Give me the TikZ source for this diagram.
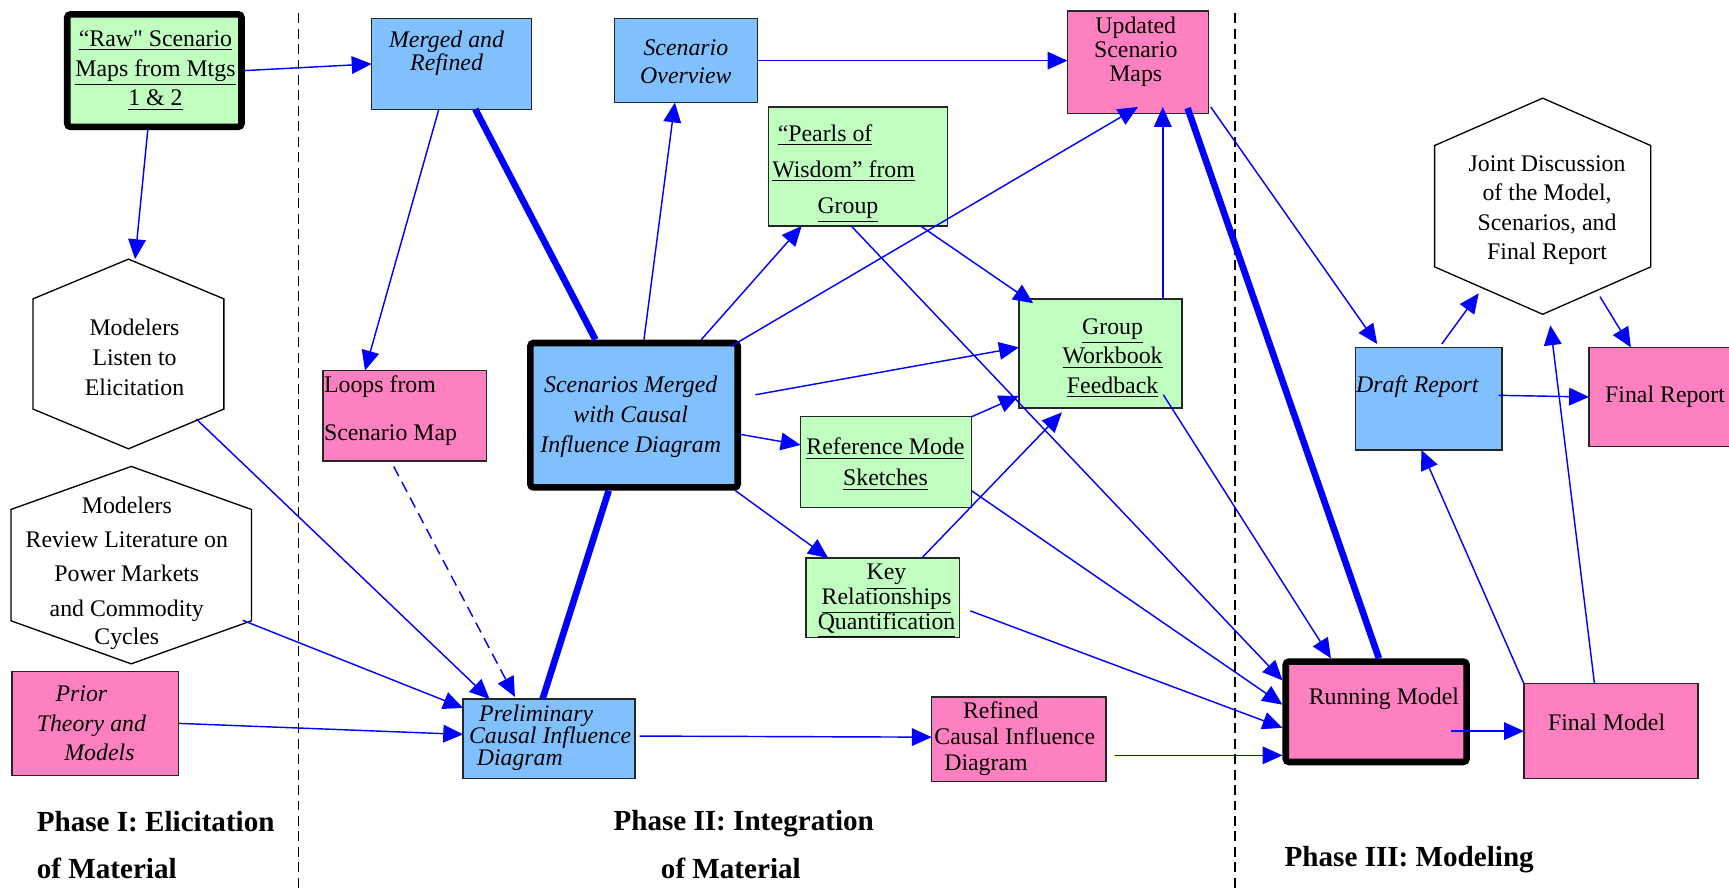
\documentclass[tikz,border=0pt]{standalone}
\usepackage{fontspec}
\setmainfont{Liberation Serif}[Ligatures=TeXOff]
\usetikzlibrary{arrows.meta}
\definecolor{gfill}{RGB}{192,255,192}
\definecolor{bfill}{RGB}{128,192,255}
\definecolor{pfill}{RGB}{255,128,192}
\definecolor{lblue}{RGB}{0,0,255}
\newcommand{\uln}[1]{\underline{#1}}
\lineskiplimit=-20pt
\begin{document}
\begin{tikzpicture}[x=0.5pt,y=-0.5pt,
  box/.style={draw=black!85, line width=0.6pt, inner sep=0pt, outer sep=0pt},
  heavy/.style={draw=black, line width=3pt, rounded corners=1.5pt, inner sep=0pt},
  G/.style={fill=gfill}, B/.style={fill=bfill}, P/.style={fill=pfill},
  hexnode/.style={inner sep=0pt, outer sep=0pt},
  hexline/.style={draw=black, line width=0.6pt},
  txt/.style={inner sep=0pt, align=center, font=\fontsize{10.8pt}{13.5pt}\selectfont},
  conn/.style={draw=lblue, line width=0.65pt, -{Triangle[length=9pt,width=8pt]}},
  heavyconn/.style={draw=lblue, line width=3pt},
  dashedconn/.style={dash pattern=on 5pt off 3pt},
  phase/.style={inner sep=0pt, align=left, font=\fontsize{13.2pt}{21.5pt}\selectfont\bfseries},
  sep/.style={draw=black, line width=0.6pt, dash pattern=on 4.5pt off 2.5pt}
]
\useasboundingbox (0,0) rectangle (1568,805);

% phase separators
\coordinate (s1t) at (271,12); \coordinate (s1b) at (271,805);
\coordinate (s2t) at (1120,12); \coordinate (s2b) at (1120,805);
\draw[sep] (s1t) -- (s1b);
\draw[sep] (s2t) -- (s2b);

% boxes
\node[heavy,G,minimum width=79pt,minimum height=51pt] (raw) at (140,64) {};
\node[txt] (rawT) at (141,64) {\uln{“Raw" Scenario}\\\uln{Maps from Mtgs}\\\uln{1 \& 2}};

\node[box,B,minimum width=72.5pt,minimum height=41pt] (merged) at (409.5,58) {};
\node[txt,font=\fontsize{10.8pt}{10.5pt}\selectfont\itshape] (mergedT) at (405,48.5) {Merged and\\Refined};

\node[box,B,minimum width=65pt,minimum height=38pt] (overview) at (622,55) {};
\node[txt,font=\fontsize{10.8pt}{13pt}\selectfont\itshape] (overviewT) at (622,56) {Scenario\\Overview};

\node[box,P,minimum width=64pt,minimum height=46.5pt] (updated) at (1032,56.5) {};
\node[txt,font=\fontsize{10.8pt}{11pt}\selectfont] (updatedT) at (1030,47) {Updated\\Scenario\\Maps};

\node[box,G,minimum width=81pt,minimum height=54pt] (pearls) at (778,151) {};
\node[txt,align=left,anchor=west,font=\fontsize{10.8pt}{16.25pt}\selectfont] (pearlsT) at (700,157.5) {\hspace*{2.5pt}\uln{“Pearls of}\\\uln{Wisdom” from}\\\hspace*{20.5pt}\uln{Group}};

\node[box,P,minimum width=74pt,minimum height=41pt] (loops) at (367,377) {};
\node[txt,align=left,anchor=west,font=\fontsize{10.8pt}{22pt}\selectfont] (loopsT) at (293.5,372.5) {Loops from\\Scenario Map};

\node[heavy,B,minimum width=94pt,minimum height=65.5pt] (scen) at (575,376.5) {};
\node[txt,font=\fontsize{10.8pt}{13.5pt}\selectfont\itshape] (scenT) at (572,378) {Scenarios Merged\\with Causal\\Influence Diagram};

\node[box,G,minimum width=77.5pt,minimum height=41pt] (refmode) at (803.5,419) {};
\node[txt,font=\fontsize{10.8pt}{14pt}\selectfont] (refmodeT) at (803,421) {\uln{Reference Mode}\\\uln{Sketches}};

\node[box,G,minimum width=74pt,minimum height=49.5pt] (group) at (998,320.5) {};
\node[txt,font=\fontsize{10.8pt}{13.25pt}\selectfont] (groupT) at (1009,325) {\uln{Group}\\\uln{Workbook}\\\uln{Feedback}};

\node[box,G,minimum width=69.5pt,minimum height=36pt] (key) at (800.5,542) {};
\node[txt,font=\fontsize{10.8pt}{11.25pt}\selectfont] (keyT) at (804,545) {\uln{Key}\\\uln{Relationships}\\\uln{Quantification}};

\node[box,B,minimum width=66.5pt,minimum height=46.5pt] (draft) at (1295.5,361.5) {};
\node[txt,anchor=west,font=\fontsize{10.8pt}{13.5pt}\selectfont\itshape] (draftT) at (1229.5,351) {Draft Report};

\node[box,P,minimum width=67pt,minimum height=45pt] (finalrep) at (1508,360) {};
\node[txt] (finalrepT) at (1510,360) {Final Report};

\node[box,P,minimum width=75.5pt,minimum height=47pt] (prior) at (86.5,656) {};
\node[txt,align=left,anchor=west,font=\fontsize{10.8pt}{13.5pt}\selectfont\itshape] (priorT) at (33,656) {\hspace*{8.5pt}Prior\\Theory and\\\hspace*{12.5pt}Models};

\node[box,B,minimum width=78pt,minimum height=36pt] (prelim) at (498,670) {};
\node[txt,align=left,anchor=west,font=\fontsize{10.8pt}{10pt}\selectfont\itshape] (prelimT) at (425,669) {\hspace*{4.5pt}Preliminary\\Causal Influence\\\hspace*{3.5pt}Diagram};

\node[box,P,minimum width=79pt,minimum height=38.5pt] (refined) at (924,670.5) {};
\node[txt,align=left,anchor=west,font=\fontsize{10.8pt}{11.75pt}\selectfont] (refinedT) at (847,670) {\hspace*{13pt}Refined\\Causal Influence\\\hspace*{4.5pt}Diagram};

\node[heavy,P,minimum width=82pt,minimum height=45.5pt] (running) at (1248,645.5) {};
\node[txt] (runningT) at (1255,633.5) {Running Model};

\node[box,P,minimum width=79pt,minimum height=43pt] (finalmodel) at (1461,663) {};
\node[txt] (finalmodelT) at (1457,655.5) {Final Model};

% hexagons
\node[hexnode,minimum width=86.5pt,minimum height=86pt] (listen) at (116.5,321) {};
\draw[hexline] (listen.north) -- ([yshift=-18pt]listen.north east) -- ([yshift=18pt]listen.south east) -- (listen.south) -- ([yshift=18pt]listen.south west) -- ([yshift=-18pt]listen.north west) -- cycle;
\node[txt] (listenT) at (122,324) {Modelers\\Listen to\\Elicitation};

\node[hexnode,minimum width=109pt,minimum height=89.5pt] (review) at (119,512.5) {};
\draw[hexline] (review.north) -- ([yshift=-19.5pt]review.north east) -- ([yshift=19.5pt]review.south east) -- (review.south) -- ([yshift=19.5pt]review.south west) -- ([yshift=-19.5pt]review.north west) -- cycle;
\node[txt,font=\fontsize{10.8pt}{15.5pt}\selectfont] (reviewT) at (115,520) {Modelers\\Review Literature on\\Power Markets\\and Commodity\\[-2.5pt]Cycles};

\node[hexnode,minimum width=98pt,minimum height=98pt] (joint) at (1399,187) {};
\draw[hexline] (joint.north) -- ([yshift=-21.5pt]joint.north east) -- ([yshift=21.5pt]joint.south east) -- (joint.south) -- ([yshift=21.5pt]joint.south west) -- ([yshift=-21.5pt]joint.north west) -- cycle;
\node[txt,font=\fontsize{10.8pt}{13.3pt}\selectfont] (jointT) at (1403,190.5) {Joint Discussion\\of the Model,\\Scenarios, and\\Final Report};

% phase labels
\node[phase,anchor=west] (ph1) at (33,766.5) {Phase I: Elicitation\\of Material};
\node[phase,anchor=west] (ph2) at (556,766) {Phase II: Integration\\\hspace*{21.5pt}of Material};
\node[phase] (ph3) at (1278,780) {Phase III: Modeling};

% connectors
\draw[conn] (raw.east) -- (merged.west);
\draw[conn] ([xshift=-3pt]raw.south) -- ([xshift=3pt]listen.north);
\draw[conn] ([xshift=-5.75pt]merged.south) -- ([xshift=-18pt]loops.north);
\draw[heavyconn] ([xshift=10.75pt]merged.south) -- ([xshift=-17.5pt]scen.north);
\draw[conn] ([xshift=4.5pt]scen.north) -- ([xshift=-5pt]overview.south);
\draw[conn] (overview.east) -- (overview.east -| updated.west);
\draw[conn] ([xshift=30.5pt]scen.north) -- ([xshift=-25.5pt]pearls.south);
\draw[conn] ([xshift=-4.5pt,yshift=-3pt]scen.north east) -- ([yshift=3pt]updated.south);
\draw[conn] ([xshift=6.5pt,yshift=9.25pt]scen.east) -- ([yshift=2.75pt]group.west);
\draw[conn] ([yshift=-8.75pt]scen.east) -- ([yshift=7.75pt]refmode.west);
\draw[conn] ([xshift=-2.5pt]scen.south east) -- ([xshift=-24.75pt]key.north);
\draw[heavyconn] ([xshift=-11.5pt]scen.south) -- ([xshift=-3pt]prelim.north);
\draw[conn] ([xshift=28.5pt]pearls.south) -- ([xshift=6.5pt,yshift=-2pt]group.north west);
\draw[conn] ([xshift=-3pt]pearls.south) -- ([yshift=14.25pt]running.west);
\draw[conn] (refmode.north east) -- ([yshift=5.5pt]group.south west);
\draw[conn] ([xshift=17.75pt]key.north) -- ([xshift=-17.5pt,yshift=-2pt]group.south);
\draw[conn] ([yshift=-13pt]refmode.east) -- ([yshift=3.25pt]running.west);
\draw[conn] ([xshift=5pt,yshift=-6pt]key.east) -- ([yshift=-7.25pt]running.west);
\draw[conn] ([xshift=4pt,yshift=-7.25pt]refined.east) -- ([yshift=-19.75pt]running.west);
\draw[conn] ([xshift=-8.5pt,yshift=-18.75pt]group.east) -- ([xshift=-20.5pt]running.north);
\draw[heavyconn] ([xshift=22.5pt,yshift=2.5pt]updated.south) -- ([xshift=1.25pt]running.north);
\draw[conn] ([xshift=28.25pt]group.north) -- ([xshift=11.25pt,yshift=3pt]updated.south);
\draw[conn] ([xshift=1pt,yshift=3pt]updated.south east) -- ([xshift=-23.25pt,yshift=1.5pt]draft.north);
\draw[conn] ([xshift=6pt,yshift=1.5pt]draft.north) -- ([xshift=-29pt,yshift=9.5pt]joint.south);
\draw[conn] ([xshift=26pt,yshift=8pt]joint.south) -- ([xshift=-14.5pt]finalrep.north);
\draw[conn] ([xshift=-1.5pt,yshift=1.5pt]draft.east) -- (finalrep.west);
\draw[conn] ([xshift=-7.5pt]finalmodel.north) -- ([xshift=3.5pt,yshift=-5pt]joint.south);
\draw[conn] (finalmodel.north west) -- ([xshift=-3.25pt]draft.south);
\draw[conn] ([xshift=-8.5pt,yshift=-8.75pt]running.east) -- (finalmodel.west);
\draw[conn] ([xshift=-12.5pt,yshift=13.5pt]listen.south east) -- ([xshift=12pt]prelim.north west);
\draw[conn,dashedconn] ([xshift=-5pt,yshift=-2.5pt]loops.south) -- ([xshift=-15.5pt,yshift=1pt]prelim.north);
\draw[conn] ([xshift=-4pt,yshift=-25pt]review.east) -- ([yshift=14pt]prelim.west);
\draw[conn] (prior.east) -- ([yshift=2pt]prelim.west);
\draw[conn] ([xshift=2pt,yshift=1.25pt]prelim.east) -- ([yshift=1pt]refined.west);
\end{tikzpicture}
\end{document}
